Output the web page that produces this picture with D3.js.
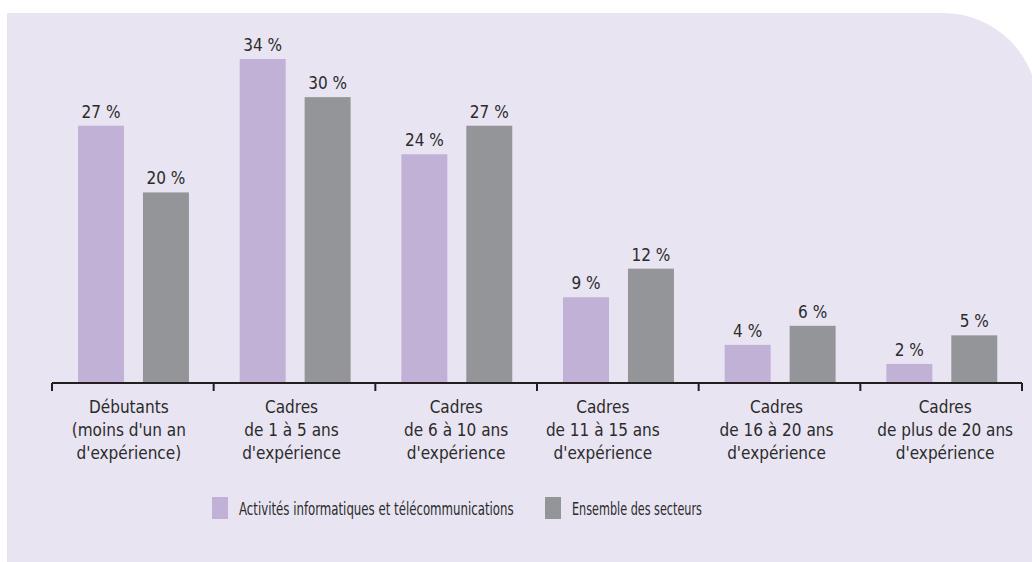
<!DOCTYPE html>
<html><head><meta charset="utf-8">
<script src="https://cdn.jsdelivr.net/npm/d3@7/dist/d3.min.js"></script>
<style>
html,body{margin:0;padding:0;background:#fff;}
svg{display:block;}
text{font-family:"DejaVu Sans Condensed","Liberation Sans Narrow",sans-serif;fill:#2b2b2b;}
</style></head>
<body>
<svg id="chart" width="1032" height="562"></svg>
<script>
const categories = [
  ["Débutants","(moins d'un an","d'expérience)"],
  ["Cadres","de 1 à 5 ans","d'expérience"],
  ["Cadres","de 6 à 10 ans","d'expérience"],
  ["Cadres","de 11 à 15 ans","d'expérience"],
  ["Cadres","de 16 à 20 ans","d'expérience"],
  ["Cadres","de plus de 20 ans","d'expérience"]
];
const seriesNames = ["Activités informatiques et télécommunications","Ensemble des secteurs"];
const informatique = [27, 34, 24, 9, 4, 2];
const ensemble = [20, 30, 27, 12, 6, 5];
const colors = ["#c1b1d6","#939598"];

// layout constants (not data)
const labelNudge = [-4, -3, 0, -15, -3, 4];
const legendTextWidth = [275, 130];

const svg = d3.select("#chart");
svg.append("path")
  .attr("d","M7,13 H943 A95,95 0 0 1 1038,108 V562 H7 Z")
  .attr("fill","#e8e4f2");

const idx = d3.range(categories.length);
const x0 = d3.scaleBand().domain(idx).range([52,1022]).padding(0);
const bw = x0.bandwidth();
const x1 = d3.scaleBand().domain([0,1]).range([bw*0.161, bw*0.847]).paddingInner(19/65).paddingOuter(0);
const y = d3.scaleLinear().domain([0,34]).range([383,59]);

const data = idx.map(i => ({i, vals:[informatique[i], ensemble[i]]}));
const g = svg.append("g");
const groups = g.selectAll("g.grp").data(data).join("g")
  .attr("transform", d => `translate(${x0(d.i)},0)`);
groups.selectAll("rect").data(d => d.vals.map((v,s)=>({v,s}))).join("rect")
  .attr("x", d => x1(d.s)).attr("width", x1.bandwidth())
  .attr("y", d => y(d.v)).attr("height", d => y(0)-y(d.v))
  .attr("fill", d => colors[d.s]);
groups.selectAll("text.val").data(d => d.vals.map((v,s)=>({v,s}))).join("text")
  .attr("class","val")
  .attr("x", d => x1(d.s)+x1.bandwidth()/2)
  .attr("y", d => y(d.v)-8)
  .attr("text-anchor","middle")
  .style("font-size","17px")
  .text(d => d.v + " %");

// axis
const axis = d3.axisBottom(x0).tickValues([]).tickSize(0);
const ax = svg.append("g").attr("transform","translate(0,383)").call(axis);
ax.select(".domain").attr("stroke","#231f20").attr("stroke-width",2).attr("d","M52,0H1022");
const bounds = d3.range(categories.length+1).map(k => 52 + k*bw);
ax.selectAll("line.tk").data(bounds).join("line").attr("class","tk")
  .attr("x1",d=>d).attr("x2",d=>d).attr("y1",0).attr("y2",8)
  .attr("stroke","#231f20").attr("stroke-width",2);

// category labels
const cl = svg.append("g");
cl.selectAll("text").data(idx).join("text")
  .attr("y", 413)
  .attr("text-anchor","middle")
  .style("font-size","17px")
  .each(function(i){
    const t = d3.select(this);
    const cx = x0(i)+bw/2+labelNudge[i];
    categories[i].forEach((line,k)=>{
      t.append("tspan").attr("x", cx).attr("dy", k===0?0:23).text(line);
    });
  });

// legend
const leg = svg.append("g");
const legX = [212, 545];
seriesNames.forEach((n,s)=>{
  leg.append("rect").attr("x",legX[s]).attr("y",497).attr("width",16).attr("height",22).attr("fill",colors[s]);
  const t = leg.append("text").attr("x",0).attr("y",0).style("font-size","17px").text(n);
  const natural = t.node().getComputedTextLength();
  const k = legendTextWidth[s] / natural;
  t.attr("transform", `translate(${legX[s]+27},515) scale(${k},1)`);
});
</script>
</body></html>
